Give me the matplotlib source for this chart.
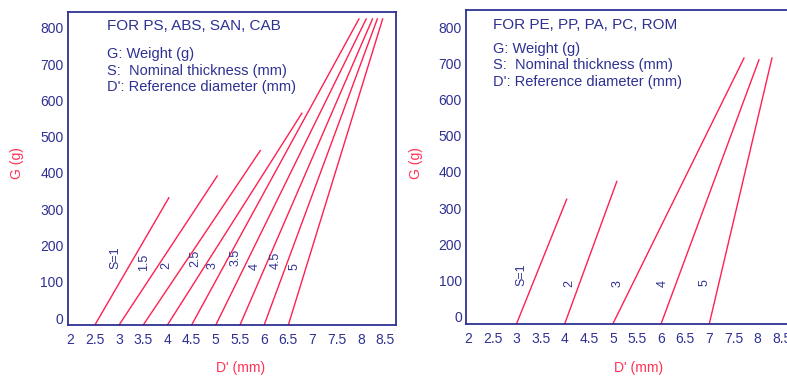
import matplotlib
matplotlib.use('Agg')
import matplotlib.pyplot as plt
from matplotlib.transforms import ScaledTranslation

NAVY = '#2E3192'
RED = '#FF2050'
LABEL_RED = '#FF3355'

# left chart: PS, ABS, SAN, CAB
left_names = ['S=1', '1.5', '2', '2.5', '3', '3.5', '4', '4.5', '5']
left_d_start = [2.5, 3.0, 3.5, 4.0, 4.5, 5.0, 5.5, 6.0, 6.5]
left_d_end = [4.03, 5.03, 5.92, 6.78, 7.96, 8.11, 8.24, 8.34, 8.45]
left_g_end = [351, 411, 481, 584, 844, 844, 844, 844, 844]
left_lab_d = [2.92, 3.52, 3.98, 4.57, 4.94, 5.40, 5.81, 6.24, 6.62]
left_lab_g = [185, 174, 163, 185, 163, 185, 160, 179, 160]

# right chart: PE, PP, PA, PC, ROM
right_names = ['S=1', '2', '3', '4', '5']
right_d_start = [3.0, 4.0, 5.0, 6.0, 7.0]
right_d_end = [4.04, 5.08, 7.72, 8.03, 8.30]
right_g_end = [344, 393, 734, 729, 734]
right_lab_d = [3.09, 4.10, 5.09, 6.03, 6.90]
right_lab_g = [135, 112, 112, 112, 114]

x_ticks = [2, 2.5, 3, 3.5, 4, 4.5, 5, 5.5, 6, 6.5, 7, 7.5, 8, 8.5]
x_tick_labels = ['2', '2.5', '3', '3.5', '4', '4.5', '5', '5.5', '6', '6.5', '7', '7.5', '8', '8.5']
y_ticks = [0, 100, 200, 300, 400, 500, 600, 700, 800]

legend_lines = ['G: Weight (g)', 'S:  Nominal thickness (mm)', "D': Reference diameter (mm)"]

plt.rcParams['font.family'] = ['Liberation Sans', 'DejaVu Sans']

fig = plt.figure(figsize=(7.87, 3.76), dpi=100)


def setup(ax, xlim, ylim):
    ax.set_xlim(*xlim)
    ax.set_ylim(*ylim)
    ax.set_xticks(x_ticks)
    ax.set_xticklabels(x_tick_labels)
    ax.set_yticks(y_ticks)
    ax.tick_params(length=0, labelsize=10, labelcolor=NAVY)
    ax.tick_params(axis='x', pad=6)
    ax.tick_params(axis='y', pad=3)
    for sp in ax.spines.values():
        sp.set_color(NAVY)
        sp.set_linewidth(1.3)
    # y labels in the original sit a little above their gridline
    shift = ScaledTranslation(0, 0.07, fig.dpi_scale_trans)
    for lab in ax.get_yticklabels():
        lab.set_transform(lab.get_transform() + shift)


def draw(ax, names, d0, d1, g1, ld, lg):
    for i in range(len(names)):
        ax.plot([d0[i], d1[i]], [0, g1[i]], color=RED, lw=1.0, clip_on=False)
        ax.text(ld[i], lg[i], names[i], rotation=90, ha='center', va='center',
                color=NAVY, fontsize=9)


ax1 = fig.add_axes([0.0860, 0.1356, 0.4168, 0.8333])
setup(ax1, (1.938, 8.72), (0, 864))
draw(ax1, left_names, left_d_start, left_d_end, left_g_end, left_lab_d, left_lab_g)
ax1.text(0.119, 0.954, 'FOR PS, ABS, SAN, CAB', transform=ax1.transAxes,
         ha='left', va='center', color=NAVY, fontsize=11)
for k, y in enumerate([0.865, 0.812, 0.761]):
    ax1.text(0.119, y, legend_lines[k], transform=ax1.transAxes,
             ha='left', va='center', color=NAVY, fontsize=10.5)

ax2 = fig.add_axes([0.5921, 0.1391, 0.4145, 0.8335])
setup(ax2, (1.95, 8.72), (0, 866))
draw(ax2, right_names, right_d_start, right_d_end, right_g_end, right_lab_d, right_lab_g)
ax2.text(0.082, 0.953, 'FOR PE, PP, PA, PC, ROM', transform=ax2.transAxes,
         ha='left', va='center', color=NAVY, fontsize=11)
for k, y in enumerate([0.876, 0.824, 0.772]):
    ax2.text(0.082, y, legend_lines[k], transform=ax2.transAxes,
             ha='left', va='center', color=NAVY, fontsize=10.5)

# axis titles
fig.text(16.7 / 787, 1 - 163 / 376, 'G (g)', rotation=90, ha='center', va='center',
         color=LABEL_RED, fontsize=10)
fig.text(240.7 / 787, 1 - 368 / 376, "D' (mm)", ha='center', va='center',
         color=LABEL_RED, fontsize=10)
fig.text(416 / 787, 1 - 163 / 376, 'G (g)', rotation=90, ha='center', va='center',
         color=LABEL_RED, fontsize=10)
fig.text(639 / 787, 1 - 367.7 / 376, "D' (mm)", ha='center', va='center',
         color=LABEL_RED, fontsize=10)

fig.savefig('out.png', dpi=100)
